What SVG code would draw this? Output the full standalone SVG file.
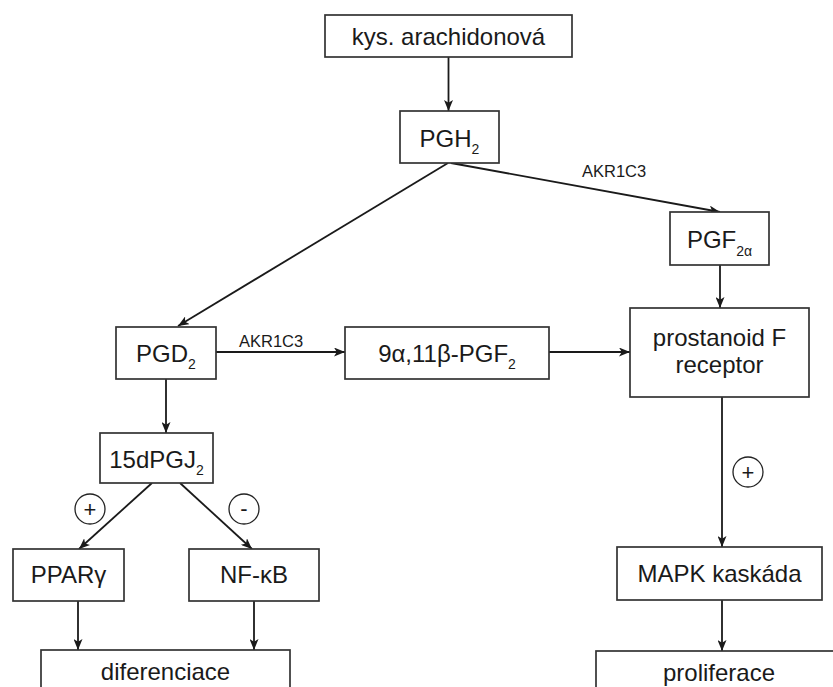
<svg xmlns="http://www.w3.org/2000/svg" width="833" height="687" viewBox="0 0 833 687">
  <defs>
    <marker id="arrow" viewBox="0 0 11 9" refX="11" refY="4.5" markerWidth="11" markerHeight="9" markerUnits="userSpaceOnUse" orient="auto">
      <path d="M0,0 L11,4.5 L0,9 L2.8,4.5 Z" fill="#1a1a1a"/>
    </marker>
  </defs>
  <style>
    .box { fill: #ffffff; stroke: #333333; stroke-width: 1.7; }
    .lbl { font-family: "Liberation Sans", Arial, sans-serif; font-size: 24px; fill: #1a1a1a; text-anchor: middle; }
    .sub { font-size: 14px; }
    .enz { font-family: "Liberation Sans", Arial, sans-serif; font-size: 16.5px; fill: #1a1a1a; }
    .edge { stroke: #1a1a1a; stroke-width: 1.8; fill: none; marker-end: url(#arrow); }
    .sign { fill: #ffffff; stroke: #222222; stroke-width: 1.3; }
    .signtxt { font-family: "Liberation Sans", Arial, sans-serif; font-size: 22px; fill: #1a1a1a; text-anchor: middle; }
  </style>
  <rect width="833" height="687" fill="#ffffff"/>

  <!-- connectors -->
  <g id="connectors">
    <line class="edge" x1="448.5" y1="57" x2="448.5" y2="111"/>
    <line class="edge" x1="451" y1="163" x2="720" y2="212"/>
    <line class="edge" x1="448" y1="163" x2="178" y2="326"/>
    <line class="edge" x1="720" y1="265" x2="720" y2="308"/>
    <line class="edge" x1="216" y1="352" x2="345" y2="352"/>
    <line class="edge" x1="549" y1="352" x2="630" y2="352"/>
    <line class="edge" x1="166" y1="379" x2="166" y2="433"/>
    <line class="edge" x1="152" y1="483" x2="79" y2="549"/>
    <line class="edge" x1="180" y1="483" x2="252" y2="549"/>
    <line class="edge" x1="78" y1="601" x2="78" y2="650"/>
    <line class="edge" x1="254" y1="601" x2="254" y2="650"/>
    <line class="edge" x1="722" y1="397" x2="722" y2="547"/>
    <line class="edge" x1="722" y1="600" x2="722" y2="651"/>
    <text class="enz" x="582" y="176.5">AKR1C3</text>
    <text class="enz" x="239" y="346.5">AKR1C3</text>
  </g>

  <!-- regulation signs -->
  <g id="signs">
    <circle class="sign" cx="90" cy="509" r="15"/>
    <text class="signtxt" x="90" y="517">+</text>
    <circle class="sign" cx="244" cy="509" r="15"/>
    <text class="signtxt" x="244" y="515.5">-</text>
    <circle class="sign" cx="748" cy="472" r="15"/>
    <text class="signtxt" x="748" y="480">+</text>
  </g>

  <g id="n-kys">
    <rect class="box" x="325" y="15" width="247" height="42"/>
    <text class="lbl" x="448.5" y="45">kys. arachidonová</text>
  </g>

  <g id="n-pgh2">
    <rect class="box" x="400" y="111" width="99" height="52"/>
    <text class="lbl" x="449.5" y="146.5">PGH<tspan class="sub" dy="7">2</tspan></text>
  </g>

  <g id="n-pgf2a">
    <rect class="box" x="670" y="212" width="99" height="53"/>
    <text class="lbl" x="719.5" y="248">PGF<tspan class="sub" dy="8">2α</tspan></text>
  </g>

  <g id="n-pgd2">
    <rect class="box" x="116" y="327" width="100" height="52"/>
    <text class="lbl" x="166" y="361.5">PGD<tspan class="sub" dy="7">2</tspan></text>
  </g>

  <g id="n-9a11b">
    <rect class="box" x="345" y="327" width="204" height="52"/>
    <text class="lbl" x="447" y="361.5">9α,11β-PGF<tspan class="sub" dy="7">2</tspan></text>
  </g>

  <g id="n-receptor">
    <rect class="box" x="630" y="308" width="179" height="89"/>
    <text class="lbl" x="719.5" y="346">prostanoid F</text>
    <text class="lbl" x="719.5" y="373">receptor</text>
  </g>

  <g id="n-15dpgj2">
    <rect class="box" x="100" y="433" width="113" height="50"/>
    <text class="lbl" x="156.5" y="468">15dPGJ<tspan class="sub" dy="7">2</tspan></text>
  </g>

  <g id="n-ppar">
    <rect class="box" x="13" y="549" width="111" height="52"/>
    <text class="lbl" x="68.5" y="583">PPARγ</text>
  </g>

  <g id="n-nfkb">
    <rect class="box" x="189" y="549" width="130" height="52"/>
    <text class="lbl" x="254" y="583">NF-κB</text>
  </g>

  <g id="n-mapk">
    <rect class="box" x="617" y="547" width="205" height="53"/>
    <text class="lbl" x="719.5" y="582">MAPK kaskáda</text>
  </g>

  <g id="n-diferenciace">
    <rect class="box" x="41" y="650" width="249" height="60"/>
    <text class="lbl" x="165.5" y="680">diferenciace</text>
  </g>

  <g id="n-proliferace">
    <rect class="box" x="596" y="651" width="250" height="60"/>
    <text class="lbl" x="719" y="681">proliferace</text>
  </g>
</svg>
